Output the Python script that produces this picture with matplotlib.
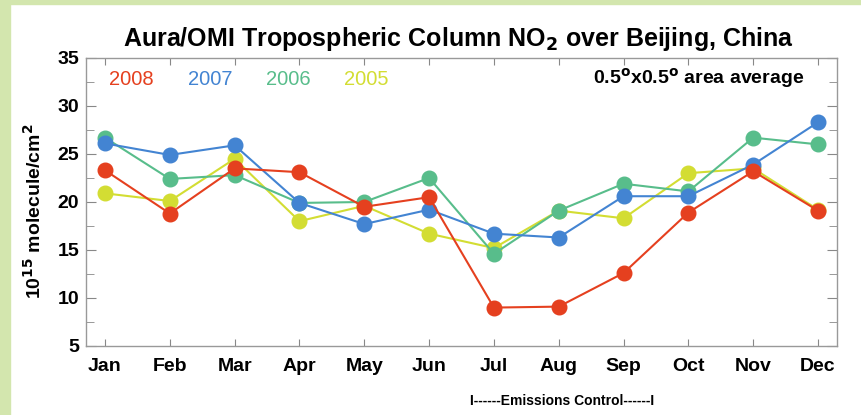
import matplotlib
matplotlib.use("Agg")
import matplotlib.pyplot as plt
from matplotlib.ticker import MultipleLocator

# Monthly NO2 column values (1e15 molecule/cm2)
months = ["Jan", "Feb", "Mar", "Apr", "May", "Jun",
          "Jul", "Aug", "Sep", "Oct", "Nov", "Dec"]
no2_2005 = [20.9, 20.1, 24.5, 18.0, 19.6, 16.7, 15.2, 19.1, 18.3, 23.0, 23.5, 19.2]
no2_2006 = [26.7, 22.4, 22.8, 19.9, 20.0, 22.5, 14.6, 19.1, 21.9, 21.1, 26.7, 26.0]
no2_2007 = [26.1, 24.9, 25.9, 19.9, 17.7, 19.2, 16.7, 16.3, 20.6, 20.6, 23.9, 28.3]
no2_2008 = [23.3, 18.8, 23.5, 23.1, 19.5, 20.5, 9.0, 9.1, 12.6, 18.9, 23.2, 19.1]

years = ["2005", "2006", "2007", "2008"]
colors = {"2005": "#d3dd33", "2006": "#58bd8b", "2007": "#4384d2", "2008": "#e5401f"}
series = {"2005": no2_2005, "2006": no2_2006, "2007": no2_2007, "2008": no2_2008}

plt.rcParams["font.family"] = ["Liberation Sans", "DejaVu Sans"]

fig = plt.figure(figsize=(8.62, 4.15), dpi=100)
fig.patch.set_facecolor("white")

# light green frame strips on left and top
fig.patches.append(plt.Rectangle((0, 0), 10 / 862, 1, transform=fig.transFigure,
                                 color="#d3e6ae", zorder=0))
fig.patches.append(plt.Rectangle((0, 1 - 4 / 415), 1, 4 / 415, transform=fig.transFigure,
                                 color="#d3e6ae", zorder=0))

ax = fig.add_axes([0.0998, 0.1663, 0.8712, 0.694])
x = list(range(1, 13))
for yr in years:
    ax.plot(x, series[yr], color=colors[yr], lw=1.5, marker="o", ms=10.5,
            markeredgecolor=colors[yr], zorder=3)

ax.set_xlim(0.707, 12.293)
ax.set_ylim(5, 35)
ax.set_xticks(x)
ax.set_xticklabels(months, fontsize=14, fontweight="bold")
ax.yaxis.set_major_locator(MultipleLocator(5))
ax.yaxis.set_minor_locator(MultipleLocator(2.5))
ax.tick_params(axis="both", which="both", direction="in", color="#888888",
               top=True, right=True)
ax.tick_params(axis="y", which="major", length=7, labelsize=14, pad=5)
ax.tick_params(axis="y", which="minor", length=6)
ax.tick_params(axis="x", which="major", length=5, pad=9)
for lbl in ax.get_yticklabels():
    lbl.set_fontweight("bold")
for sp in ax.spines.values():
    sp.set_color("#999999")
    sp.set_linewidth(1.0)

fig.text(0.532, 0.905, "Aura/OMI Tropospheric Column NO$_\\mathbf{2}$ over Beijing, China",
         ha="center", va="center", fontsize=18, fontweight="bold")

xs = [0.030, 0.136, 0.240, 0.343]
for xi, yr in zip(xs, ["2008", "2007", "2006", "2005"]):
    ax.text(xi, 0.925, yr, transform=ax.transAxes, color=colors[yr],
            fontsize=14.5, ha="left", va="center")
ax.text(0.957, 0.93, "0.5$^\\mathbf{o}$x0.5$^\\mathbf{o}$ area average",
        transform=ax.transAxes, ha="right", va="center", fontsize=14,
        fontweight="bold")

fig.text(0.039, 0.49, "10$^{\\mathbf{15}}$ molecule/cm$^{\\mathbf{2}}$", rotation=90,
         ha="center", va="center", fontsize=14, fontweight="bold")
ax.text(8.05, -0.19, "I------Emissions Control------I", transform=ax.get_xaxis_transform(),
        ha="center", va="center", fontsize=10, fontweight="bold")

fig.savefig("out.png", dpi=100, facecolor=fig.get_facecolor())
